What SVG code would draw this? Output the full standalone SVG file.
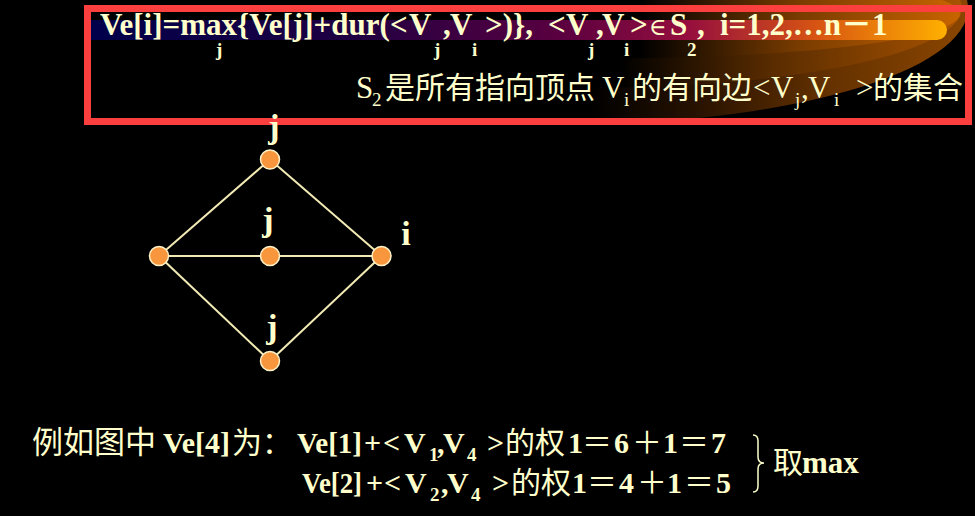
<svg xmlns="http://www.w3.org/2000/svg" width="975" height="516" viewBox="0 0 975 516">
<defs>
<style>
.t{fill:#ffffcc;font-family:"Liberation Serif","Noto Sans CJK SC",serif;font-weight:bold;font-size:31px}
.n{font-weight:normal}
.c{fill:#ffffcc;font-family:"Noto Sans CJK SC","Liberation Sans",sans-serif;font-weight:normal;font-size:30px}
.s{font-size:19px}
.el{font-family:"DejaVu Serif",serif;font-weight:normal;font-size:24px}
.lbl{fill:#ffffcc;font-family:"Liberation Serif",serif;font-weight:bold;font-size:34px;text-anchor:middle}
.edge{stroke:#f2ebb5;stroke-width:2;fill:none}
.node{fill:#f7963c;stroke:#fff2c8;stroke-width:1.5}
</style>
<linearGradient id="g1" gradientUnits="userSpaceOnUse" x1="590" y1="0" x2="965" y2="0">
<stop offset="0" stop-color="#000"/><stop offset="0.3" stop-color="#2a1300"/><stop offset="0.65" stop-color="#663200"/><stop offset="1" stop-color="#8a4500"/>
</linearGradient>
<linearGradient id="g2" gradientUnits="userSpaceOnUse" x1="620" y1="0" x2="960" y2="0">
<stop offset="0" stop-color="#000"/><stop offset="0.45" stop-color="#5a2c00"/><stop offset="1" stop-color="#a85300"/>
</linearGradient>
<linearGradient id="g3" gradientUnits="userSpaceOnUse" x1="640" y1="0" x2="960" y2="0">
<stop offset="0" stop-color="#000"/><stop offset="0.5" stop-color="#7a3c00"/><stop offset="1" stop-color="#c86400"/>
</linearGradient>
<linearGradient id="band" gradientUnits="userSpaceOnUse" x1="88" y1="0" x2="947" y2="0">
<stop offset="0" stop-color="#00004a"/><stop offset="0.3" stop-color="#1e0042"/><stop offset="0.55" stop-color="#5a0040"/><stop offset="0.7" stop-color="#960f3e"/><stop offset="0.85" stop-color="#d85512"/><stop offset="1" stop-color="#ffb000"/>
</linearGradient>
</defs>
<rect width="975" height="516" fill="#000"/>
<g id="background-swoosh">
<ellipse cx="560" cy="8" rx="408" ry="117" fill="url(#g1)"/>
<ellipse cx="590" cy="8" rx="372" ry="80" fill="url(#g2)"/>
<ellipse cx="620" cy="14" rx="340" ry="44" fill="url(#g3)"/>
<path d="M88,20 H937 A10,10 0 0 1 937,40 H88 Z" fill="url(#band)"/>
</g>
<rect id="frame" x="87.5" y="8.5" width="881" height="113" fill="none" stroke="#fb3f3f" stroke-width="7"/>
<g id="formula">
<text class="t" y="35"><tspan x="100">Ve[i]=max</tspan><tspan x="237">{Ve[j]+dur(</tspan><tspan x="390">&lt;</tspan><tspan x="409">V</tspan><tspan x="443">,</tspan><tspan x="450">V</tspan><tspan x="485">&gt;)},</tspan><tspan x="548">&lt;</tspan><tspan x="566">V</tspan><tspan x="596">,</tspan><tspan x="602">V</tspan><tspan x="630">&gt;</tspan><tspan class="el" x="649">∈</tspan><tspan x="670">S</tspan><tspan x="697">,</tspan><tspan x="720">i=1,2,…n－1</tspan></text>
<text class="t s" y="48"><tspan x="216" y="56">j</tspan><tspan x="434">j</tspan><tspan x="472">i</tspan><tspan x="588">j</tspan><tspan x="624">i</tspan><tspan x="687">2</tspan></text>
</g>
<g id="definition">
<text class="t n" y="98"><tspan x="356">S</tspan><tspan x="602">V</tspan><tspan x="753">&lt;</tspan><tspan x="771">V</tspan><tspan x="801">,</tspan><tspan x="808">V</tspan><tspan x="856">&gt;</tspan></text>
<text class="t n s" y="106"><tspan x="372">2</tspan><tspan x="624">i</tspan><tspan x="795">j</tspan><tspan x="834">i</tspan></text>
<text class="c" y="98"><tspan x="385">是所有指向顶点</tspan><tspan x="632">的有向边</tspan><tspan x="873">的集合</tspan></text>
</g>
<g id="edges">
<line class="edge" x1="159" y1="256" x2="270" y2="159.5"/>
<line class="edge" x1="270" y1="159.5" x2="381.5" y2="256"/>
<line class="edge" x1="159" y1="256" x2="381.5" y2="256"/>
<line class="edge" x1="159" y1="256" x2="270" y2="361"/>
<line class="edge" x1="270" y1="361" x2="381.5" y2="256"/>
</g>
<g id="node-top"><circle class="node" cx="270" cy="159.5" r="9.5"/><text class="lbl" x="274" y="138">j</text></g>
<g id="node-left"><circle class="node" cx="159" cy="256" r="9.5"/></g>
<g id="node-mid"><circle class="node" cx="270" cy="256" r="9.5"/><text class="lbl" x="268" y="231">j</text></g>
<g id="node-right"><circle class="node" cx="381.5" cy="256" r="9.5"/><text class="lbl" x="406" y="245">i</text></g>
<g id="node-bottom"><circle class="node" cx="270" cy="361" r="9.5"/><text class="lbl" x="272" y="338">j</text></g>
<g id="example">
<text class="c" y="453" style="font-size:31px"><tspan x="32">例如图中</tspan></text>
<text class="t" x="163" y="453" style="font-size:30px" textLength="67" lengthAdjust="spacingAndGlyphs">Ve[4]</text>
<text class="t" x="297" y="453" style="font-size:30px" textLength="65" lengthAdjust="spacingAndGlyphs">Ve[1]</text>
<text class="t" y="453" style="font-size:30px"><tspan x="364">+</tspan><tspan x="383">&lt;</tspan><tspan x="404">V</tspan><tspan x="437">,</tspan><tspan x="443">V</tspan><tspan x="487">&gt;</tspan><tspan x="568">1</tspan><tspan x="614">6</tspan><tspan x="663">1</tspan><tspan x="711">7</tspan></text>
<text class="t s" y="461"><tspan x="429">1</tspan><tspan x="467">4</tspan></text>
<text class="c" y="453"><tspan x="232">为：</tspan><tspan x="505">的权</tspan><tspan x="582">＝</tspan><tspan x="632">＋</tspan><tspan x="679">＝</tspan></text>
<text class="t" x="302" y="493" style="font-size:30px" textLength="60" lengthAdjust="spacingAndGlyphs">Ve[2]</text>
<text class="t" y="493" style="font-size:30px"><tspan x="366">+</tspan><tspan x="384">&lt;</tspan><tspan x="405">V</tspan><tspan x="441">,</tspan><tspan x="447">V</tspan><tspan x="492">&gt;</tspan><tspan x="572">1</tspan><tspan x="619">4</tspan><tspan x="667">1</tspan><tspan x="716">5</tspan></text>
<text class="t s" y="501"><tspan x="430">2</tspan><tspan x="471">4</tspan></text>
<text class="c" y="493"><tspan x="511">的权</tspan><tspan x="587">＝</tspan><tspan x="637">＋</tspan><tspan x="684">＝</tspan></text>
<path d="M753,435 Q758,435 758,441 V457 Q758,463 764,463 Q758,463 758,469 V486 Q758,492 753,492" fill="none" stroke="#ffffcc" stroke-width="1.5"/>
<text class="c" x="773" y="473">取</text>
<text class="t" x="802" y="473">max</text>
</g>
</svg>
